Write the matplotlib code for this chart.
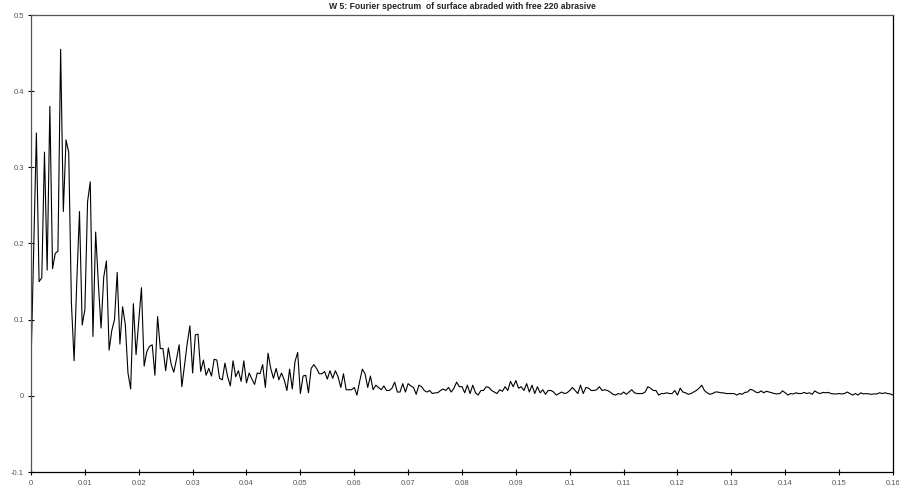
import numpy as np
import matplotlib
matplotlib.use("Agg")
import matplotlib.pyplot as plt

title = "W 5: Fourier spectrum  of surface abraded with free 220 abrasive"

freq_step = 0.0005

amplitude = [
    # 0 - 43
    0.040, 0.190, 0.345, 0.150, 0.155, 0.320, 0.165, 0.380, 0.167, 0.187,
    0.190, 0.455, 0.242, 0.336, 0.320, 0.122, 0.046, 0.150, 0.242, 0.093,
    0.113, 0.255, 0.281, 0.078, 0.215, 0.148, 0.089, 0.156, 0.177, 0.060,
    0.086, 0.100, 0.162, 0.068, 0.117, 0.094, 0.030, 0.009, 0.121, 0.054,
    0.098, 0.142, 0.039, 0.058,
    # 44 - 84
    0.065, 0.067, 0.027, 0.104, 0.062, 0.062, 0.033, 0.063, 0.042, 0.031,
    0.048, 0.067, 0.012, 0.040, 0.069, 0.092, 0.030, 0.080, 0.081, 0.032,
    0.047, 0.027, 0.036, 0.026, 0.048, 0.047, 0.023, 0.021, 0.043, 0.025,
    0.013, 0.046, 0.025, 0.033, 0.019, 0.046, 0.017, 0.030, 0.022, 0.015,
    0.030,
    # 85 - 133
    0.029, 0.041, 0.011, 0.056, 0.036, 0.023, 0.036, 0.021, 0.030, 0.021,
    0.007, 0.035, 0.009, 0.045, 0.057, 0.003, 0.026, 0.027, 0.004, 0.036,
    0.041, 0.036, 0.029, 0.029, 0.032, 0.022, 0.033, 0.023, 0.033, 0.025,
    0.011, 0.029, 0.008, 0.008, 0.008, 0.011, 0.001, 0.019, 0.035, 0.029,
    0.011, 0.026, 0.008, 0.014, 0.011, 0.008, 0.013, 0.007, 0.007,
    # 134 - 189
    0.010, 0.018, 0.005, 0.005, 0.016, 0.005, 0.016, 0.013, 0.011, 0.002,
    0.014, 0.012, 0.007, 0.005, 0.007, 0.003, 0.004, 0.004, 0.007, 0.009,
    0.007, 0.011, 0.005, 0.010, 0.018, 0.012, 0.012, 0.004, 0.014, 0.003,
    0.014, 0.004, 0.001, 0.007, 0.007, 0.012, 0.011, 0.007, 0.005, 0.003,
    0.008, 0.006, 0.012, 0.007, 0.019, 0.012, 0.020, 0.010, 0.012, 0.007,
    0.016, 0.005, 0.014, 0.003, 0.012, 0.004,
    # 190 - 257
    0.008, 0.002, 0.007, 0.007, 0.005, 0.001, 0.003, 0.005, 0.003, 0.004,
    0.007, 0.011, 0.007, 0.003, 0.014, 0.003, 0.011, 0.010, 0.007, 0.007,
    0.008, 0.012, 0.007, 0.008, 0.007, 0.005, 0.002, 0.001, 0.003, 0.002,
    0.005, 0.002, 0.005, 0.008, 0.004, 0.003, 0.003, 0.003, 0.005, 0.012,
    0.010, 0.007, 0.007, 0.001, 0.003, 0.003, 0.004, 0.003, 0.003, 0.007,
    0.001, 0.010, 0.005, 0.004, 0.002, 0.003, 0.005, 0.007, 0.010, 0.014,
    0.007, 0.004, 0.002, 0.003, 0.005, 0.005, 0.004, 0.004,
    # 258 - 320
    0.003, 0.003, 0.003, 0.003, 0.001,
    0.003, 0.002, 0.0045, 0.005, 0.0085,
    0.0075, 0.005, 0.004, 0.0065, 0.004,
    0.006, 0.005, 0.004, 0.003, 0.0025,
    0.003, 0.0065, 0.004, 0.001, 0.003,
    0.0025, 0.004, 0.003, 0.003, 0.0045,
    0.003, 0.004, 0.002, 0.0065, 0.004,
    0.003, 0.0045, 0.004, 0.0045, 0.003,
    0.0025, 0.0025, 0.003, 0.0025,
    0.003, 0.005, 0.003, 0.001, 0.003,
    0.001, 0.004, 0.0025, 0.003, 0.0025,
    0.002, 0.0025, 0.0025, 0.004,
    0.003, 0.004, 0.003, 0.0025, 0.001,
]

x_ticks = [0, 0.01, 0.02, 0.03, 0.04, 0.05, 0.06, 0.07, 0.08, 0.09,
           0.1, 0.11, 0.12, 0.13, 0.14, 0.15, 0.16]
x_tick_labels = ["0", "0.01", "0.02", "0.03", "0.04", "0.05", "0.06", "0.07",
                 "0.08", "0.09", "0.1", "0.11", "0.12", "0.13", "0.14",
                 "0.15", "0.16"]
y_ticks = [-0.1, 0, 0.1, 0.2, 0.3, 0.4, 0.5]
y_tick_labels = ["-0.1", "0", "0.1", "0.2", "0.3", "0.4", "0.5"]

plt.rcParams['font.family'] = ['Liberation Sans', 'DejaVu Sans']

freq = np.arange(len(amplitude)) * freq_step

fig = plt.figure(figsize=(8.99, 4.90), dpi=100)
ax = fig.add_axes([31 / 899, 18 / 490, (893 - 31) / 899, (472 - 15) / 490])

ax.plot(freq, amplitude, color='black', linewidth=0.8)

ax.set_xlim(0, 0.16)
ax.set_ylim(-0.1, 0.5)
ax.set_xticks(x_ticks)
ax.set_xticklabels(x_tick_labels)
ax.set_yticks(y_ticks)
ax.set_yticklabels(y_tick_labels)
ax.tick_params(axis='both', direction='inout', length=4, width=0.8,
               labelsize=5.5, labelcolor='#555555', color='black')
ax.tick_params(axis='x', pad=3.5)
ax.tick_params(axis='y', pad=3)

for side in ['left', 'top']:
    ax.spines[side].set_color('#555555')
    ax.spines[side].set_linewidth(0.9)
for side in ['right', 'bottom']:
    ax.spines[side].set_color('black')
    ax.spines[side].set_linewidth(0.9)

fig.text((31 + 893) / 2 / 899, 1 - 6.5 / 490, title, ha='center', va='center',
         fontsize=6.2, fontweight='bold', color='#222222')

fig.savefig("out.png", dpi=100)
